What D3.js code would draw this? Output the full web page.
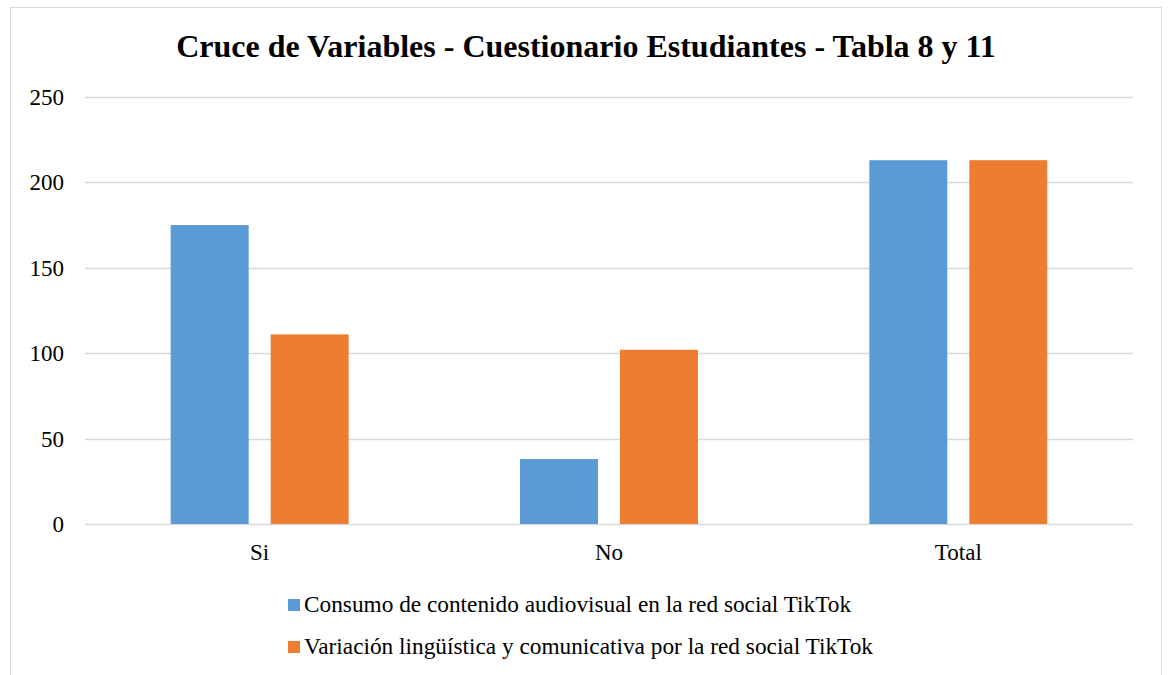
<!DOCTYPE html>
<html>
<head>
<meta charset="utf-8">
<script src="https://cdn.jsdelivr.net/npm/d3@7"></script>
<style>
  body { margin: 0; background: #fff; }
</style>
</head>
<body>
<script>
// data
var categories = ['Si', 'No', 'Total'];
var seriesNames = [
  'Consumo de contenido audiovisual en la red social TikTok',
  'Variación lingüística y comunicativa por la red social TikTok'
];
var consumo = [175, 38, 213];
var variacion = [111, 102, 213];
var yTicks = [0, 50, 100, 150, 200, 250];
var colors = ['#5B9BD5', '#ED7D31'];

var width = 1168, height = 675;
var serif = "'Liberation Serif', 'Times New Roman', Times, 'DejaVu Serif', serif";
var svg = d3.select('body').append('svg')
    .attr('width', width)
    .attr('height', height)
    .style('font-family', serif);

svg.append('rect')
    .attr('x', 10.5).attr('y', 7.5)
    .attr('width', 1151).attr('height', 700)
    .attr('fill', '#fff')
    .attr('stroke', '#d9d9d9');

var plot = { left: 85, right: 1133, top: 97, bottom: 524 };

var yScale = d3.scaleLinear().domain([0, 250]).range([plot.bottom, plot.top]);
var x0 = d3.scaleBand().domain(categories).range([plot.left, plot.right]);
var x1 = d3.scaleBand().domain([0, 1]).range([0, x0.bandwidth()])
    .paddingInner(0.22).paddingOuter(0.857);

// gridlines
svg.append('g').selectAll('line')
    .data(yTicks)
    .enter().append('line')
    .attr('x1', plot.left).attr('x2', plot.right)
    .attr('y1', d => Math.round(yScale(d)) + 0.5)
    .attr('y2', d => Math.round(yScale(d)) + 0.5)
    .attr('stroke', '#d9d9d9')
    .attr('stroke-width', 1.3);

// y labels
svg.append('g').selectAll('text')
    .data(yTicks)
    .enter().append('text')
    .attr('x', 64)
    .attr('y', d => yScale(d) + 8)
    .attr('text-anchor', 'end')
    .attr('font-family', serif)
    .style('font-size', '23px')
    .text(d => d);

// bars
var rows = categories.map((c, i) => ({ cat: c, vals: [consumo[i], variacion[i]] }));
var groups = svg.append('g').selectAll('g')
    .data(rows)
    .enter().append('g')
    .attr('transform', d => `translate(${x0(d.cat)},0)`);
groups.selectAll('rect')
    .data(d => d.vals.map((v, j) => ({ v: v, j: j })))
    .enter().append('rect')
    .attr('x', d => x1(d.j))
    .attr('width', x1.bandwidth())
    .attr('y', d => yScale(d.v))
    .attr('height', d => plot.bottom - yScale(d.v))
    .attr('fill', d => colors[d.j]);

// x labels
svg.append('g').selectAll('text')
    .data(categories)
    .enter().append('text')
    .attr('x', d => x0(d) + x0.bandwidth() / 2)
    .attr('y', 560)
    .attr('text-anchor', 'middle')
    .attr('font-family', serif)
    .style('font-size', '23px')
    .text(d => d);

// title
svg.append('text')
    .attr('x', 586)
    .attr('y', 57)
    .attr('text-anchor', 'middle')
    .attr('font-family', serif)
    .style('font-size', '32px')
    .style('font-weight', 'bold')
    .text('Cruce de Variables - Cuestionario Estudiantes - Tabla 8 y 11');

// legend
var legend = svg.append('g').selectAll('g')
    .data(seriesNames)
    .enter().append('g')
    .attr('transform', (d, i) => `translate(288,${599 + i * 42})`);
legend.append('rect')
    .attr('width', 12).attr('height', 12)
    .attr('fill', (d, i) => colors[i]);
legend.append('text')
    .attr('x', 16)
    .attr('y', 12.5)
    .attr('font-family', serif)
    .style('font-size', '23.3px')
    .text(d => d);
</script>
</body>
</html>
